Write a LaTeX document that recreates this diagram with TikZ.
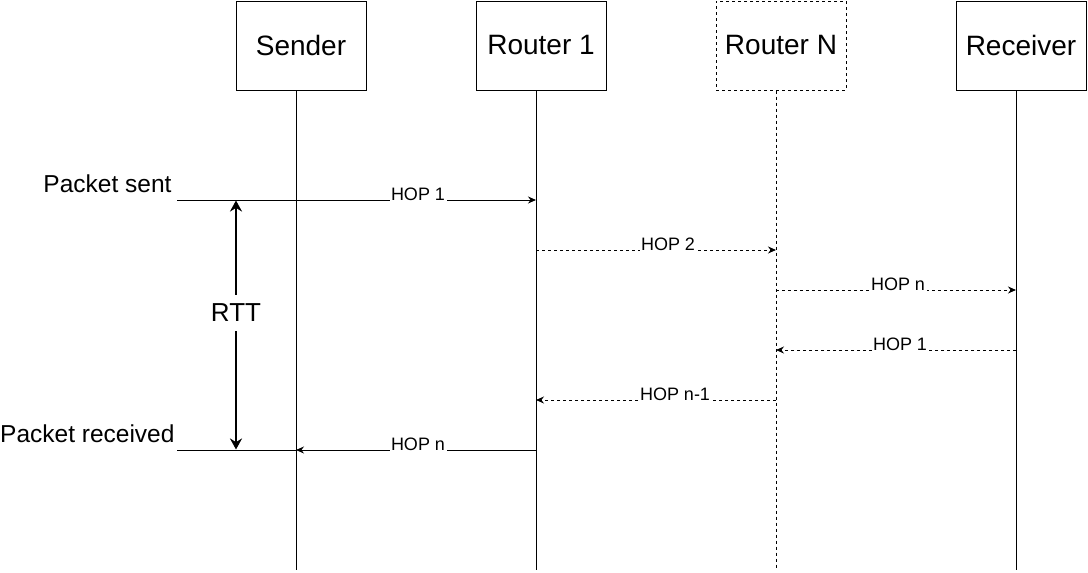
\documentclass[tikz,border=0pt]{standalone}
\usepackage{fontspec}
\setmainfont{Liberation Sans}
\usetikzlibrary{arrows.meta}

\begin{document}
\begin{tikzpicture}[x=1pt, y=-1pt, line width=1pt,
    actor/.style={draw, minimum width=130pt, minimum height=89pt, inner sep=0pt, font=\fontsize{28}{34}\selectfont},
    hoplabel/.style={fill=white, inner sep=1.5pt, anchor=base west, font=\fontsize{18}{22}\selectfont},
    sidelabel/.style={anchor=base east, inner sep=0pt, font=\fontsize{24.5}{30}\selectfont},
    msg/.style={-{Stealth[length=8pt, width=7pt]}},
    reply/.style={msg, dash pattern=on 3pt off 3pt}]
    \useasboundingbox (0,0) rectangle (1088,573);

    % Participants
    \node[actor] (sender) at (301,45.5) {Sender};
    \node[actor] (router1) at (541,45.5) {Router 1};
    \node[actor, dash pattern=on 3pt off 3pt] (routerN) at (781,45.5) {Router N};
    \node[actor] (receiver) at (1021,45.5) {Receiver};

    % Lifelines
    \coordinate (senderEnd) at (296,570);
    \coordinate (router1End) at (536,570);
    \coordinate (routerNEnd) at (776,570);
    \coordinate (receiverEnd) at (1016,570);
    \draw (sender.south -| senderEnd) -- (senderEnd);
    \draw (router1.south -| router1End) -- (router1End);
    \draw[dash pattern=on 3pt off 3pt] (routerN.south -| routerNEnd) -- (routerNEnd);
    \draw (receiver.south -| receiverEnd) -- (receiverEnd);

    % Messages
    \coordinate (sentStart) at (177,200);
    \coordinate (m2) at (536,250);
    \coordinate (m3) at (776,290);
    \coordinate (m4) at (1016,350);
    \coordinate (m5) at (776,400);
    \coordinate (m6) at (536,450);
    \coordinate (recvEnd) at (177,450);
    \draw[msg] (sentStart) -- (sentStart -| router1End);
    \draw[reply] (m2) -- (m2 -| routerNEnd);
    \draw[reply] (m3) -- (m3 -| receiverEnd);
    \draw[reply] (m4) -- (m4 -| routerNEnd);
    \draw[reply] (m5) -- (m5 -| router1End);
    \draw[msg] (m6) -- (m6 -| senderEnd);
    \draw (m6 -| senderEnd) -- (recvEnd);

    % Hop labels
    \node[hoplabel] (l1) at (389,200) {HOP 1};
    \node[hoplabel] (l2) at (639,250) {HOP 2};
    \node[hoplabel] (l3) at (869,290) {HOP n};
    \node[hoplabel] (l4) at (871,350) {HOP 1};
    \node[hoplabel] (l5) at (638,400) {HOP n-1};
    \node[hoplabel] (l6) at (389,450) {HOP n};

    % Side labels
    \node[sidelabel] (sent) at (172,192) {Packet sent};
    \node[sidelabel] (received) at (175,442) {Packet received};

    % Round trip time
    \coordinate (rttTop) at (236,200.5);
    \coordinate (rttBot) at (236,449.5);
    \draw[line width=2.5pt, {Stealth[length=11pt, width=12pt]}-{Stealth[length=11pt, width=12pt]}] (rttTop) -- (rttBot);
    \node[fill=white, inner xsep=2pt, inner ysep=9pt, font=\fontsize{26}{30}\selectfont] (rtt) at (236,313) {RTT};
\end{tikzpicture}
\end{document}
